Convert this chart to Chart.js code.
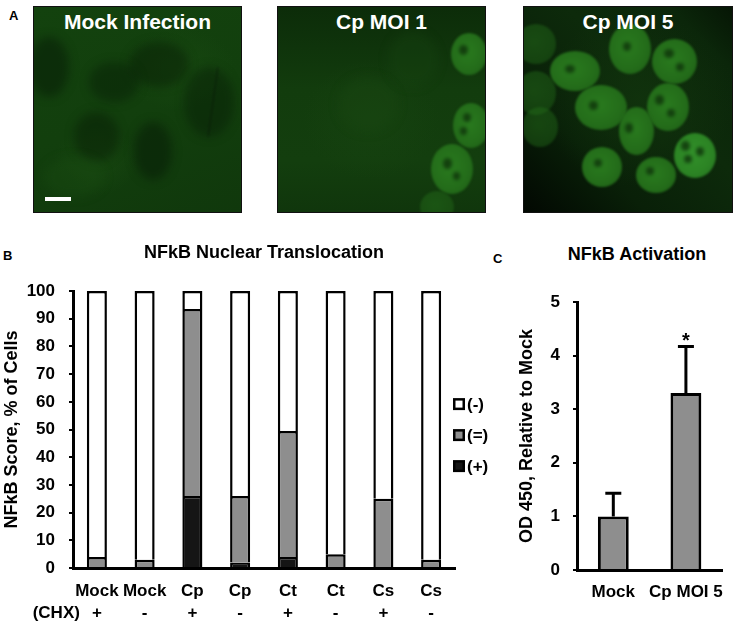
<!DOCTYPE html>
<html>
<head>
<meta charset="utf-8">
<script src="https://cdn.jsdelivr.net/npm/chart.js@4.4.1/dist/chart.umd.min.js"></script>
<style>
html,body{margin:0;padding:0;background:#fff;}
body{width:737px;height:626px;position:relative;overflow:hidden;font-family:"Liberation Sans",Arial,sans-serif;}
.lbl{position:absolute;font-weight:bold;color:#000;line-height:1;}
.img{position:absolute;top:6px;height:207px;box-sizing:border-box;border:1.5px solid #111;overflow:hidden;}
.cap{position:absolute;left:0;right:0;top:3px;text-align:center;color:#fff;font-weight:bold;font-size:21px;z-index:5;}
.nuc{position:absolute;border-radius:50%;filter:blur(0.8px);
  background:radial-gradient(ellipse at 45% 45%,#297a1e 0%,#246d1a 55%,#1d5c16 100%);}
.dim{opacity:0.45;}
.spot{position:absolute;border-radius:50%;background:rgba(14,50,10,0.8);filter:blur(1.5px);}
.patch{position:absolute;border-radius:50%;filter:blur(5px);}
.chartbox{position:absolute;}
</style>
</head>
<body>
<!-- Panel A -->
<div class="lbl" style="left:9px;top:9px;font-size:13px;">A</div>

<div class="img" style="left:33px;width:209px;background:
  radial-gradient(ellipse 60px 50px at 30% 75%, rgba(26,76,18,0.6), rgba(0,0,0,0) 70%),
  radial-gradient(ellipse 80px 60px at 70% 30%, rgba(26,76,18,0.55), rgba(0,0,0,0) 70%),
  linear-gradient(160deg,#13420e 0%,#123f0d 50%,#10380c 100%);">
  <div class="patch" style="left:-5px;top:30px;width:40px;height:60px;background:rgba(6,26,5,0.5);"></div>
  <div class="patch" style="left:95px;top:35px;width:60px;height:45px;background:rgba(6,26,5,0.45);"></div>
  <div class="patch" style="left:40px;top:105px;width:45px;height:50px;background:rgba(6,26,5,0.45);"></div>
  <div class="patch" style="left:100px;top:115px;width:38px;height:58px;background:rgba(6,26,5,0.5);"></div>
  <div class="patch" style="left:150px;top:60px;width:50px;height:70px;background:rgba(6,26,5,0.4);"></div>
  <div class="patch" style="left:55px;top:55px;width:50px;height:40px;background:rgba(6,26,5,0.4);"></div>
  <div class="patch" style="left:10px;top:150px;width:60px;height:40px;background:rgba(26,76,18,0.4);"></div>
  <div style="position:absolute;left:178px;top:60px;width:1.5px;height:70px;background:rgba(5,20,5,0.35);filter:blur(1px);transform:rotate(8deg);"></div>
  <div style="position:absolute;left:11px;top:190px;width:26px;height:4px;background:#fff;"></div>
  <div class="cap">Mock Infection</div>
</div>

<div class="img" style="left:277px;width:209px;background:
  radial-gradient(ellipse 90px 80px at 45% 55%, rgba(24,70,17,0.55), rgba(0,0,0,0) 75%),
  linear-gradient(180deg,#0c2c09 0%,#123c0d 40%,#133e0e 75%,#10360c 100%);">
  <div class="patch" style="left:60px;top:70px;width:60px;height:55px;background:rgba(24,70,17,0.4);"></div>
  <div class="patch" style="left:110px;top:25px;width:50px;height:55px;background:rgba(24,70,17,0.35);"></div>
  <div class="nuc" style="left:173px;top:26px;width:36px;height:42px;"><div class="spot" style="left:8px;top:12px;width:9px;height:10px;"></div></div>
  <div class="nuc" style="left:175px;top:96px;width:36px;height:45px;"><div class="spot" style="left:10px;top:10px;width:8px;height:9px;"></div><div class="spot" style="left:7px;top:24px;width:7px;height:8px;"></div></div>
  <div class="nuc" style="left:153px;top:137px;width:42px;height:50px;"><div class="spot" style="left:12px;top:14px;width:9px;height:11px;"></div><div class="spot" style="left:22px;top:28px;width:7px;height:8px;"></div></div>
  <div class="nuc dim" style="left:142px;top:184px;width:34px;height:32px;"></div>
  <div class="cap">Cp MOI 1</div>
</div>

<div class="img" style="left:523px;width:210px;background:
  radial-gradient(ellipse 120px 110px at 55% 45%, rgba(17,52,13,0.8), rgba(0,0,0,0) 80%),
  linear-gradient(45deg,#020802 0%,#092008 30%,#0d2a0b 60%,#0b260a 85%,#061605 100%);">
  <div class="nuc dim" style="left:-8px;top:17px;width:40px;height:40px;"></div>
  <div class="nuc dim" style="left:-8px;top:64px;width:40px;height:44px;"></div>
  <div class="nuc dim" style="left:-2px;top:100px;width:36px;height:40px;"></div>
  <div class="nuc" style="left:85px;top:17px;width:42px;height:50px;"><div class="spot" style="left:14px;top:18px;width:8px;height:9px;"></div></div>
  <div class="nuc" style="left:128px;top:32px;width:45px;height:45px;"><div class="spot" style="left:12px;top:10px;width:10px;height:9px;"></div><div class="spot" style="left:24px;top:24px;width:8px;height:8px;"></div></div>
  <div class="nuc" style="left:26px;top:44px;width:50px;height:40px;"><div class="spot" style="left:15px;top:14px;width:10px;height:8px;"></div></div>
  <div class="nuc" style="left:51px;top:78px;width:52px;height:45px;"><div class="spot" style="left:14px;top:16px;width:9px;height:9px;"></div></div>
  <div class="nuc" style="left:123px;top:76px;width:42px;height:48px;"><div class="spot" style="left:8px;top:12px;width:9px;height:10px;"></div><div class="spot" style="left:20px;top:26px;width:8px;height:8px;"></div></div>
  <div class="nuc" style="left:95px;top:100px;width:35px;height:48px;"><div class="spot" style="left:6px;top:16px;width:8px;height:10px;"></div></div>
  <div class="nuc" style="left:150px;top:126px;width:42px;height:45px;background:radial-gradient(ellipse at 45% 45%,#32902a 0%,#2c8424 55%,#247020 100%);"><div class="spot" style="left:7px;top:8px;width:9px;height:10px;"></div><div class="spot" style="left:22px;top:14px;width:8px;height:9px;"></div><div class="spot" style="left:10px;top:22px;width:8px;height:8px;"></div></div>
  <div class="nuc" style="left:58px;top:140px;width:40px;height:40px;"><div class="spot" style="left:12px;top:12px;width:8px;height:8px;"></div></div>
  <div class="nuc" style="left:112px;top:150px;width:40px;height:36px;"><div class="spot" style="left:10px;top:10px;width:8px;height:8px;"></div></div>
  <div class="cap">Cp MOI 5</div>
</div>

<!-- Panel letters / titles -->
<div class="lbl" style="left:3px;top:249px;font-size:13px;">B</div>
<div class="lbl" style="left:493px;top:252px;font-size:13px;">C</div>
<div class="lbl" style="left:500px;top:245px;width:274px;text-align:center;font-size:18px;">NFkB Activation</div>

<div class="chartbox" style="left:0;top:235px;width:505px;height:391px;"><canvas id="chartB"></canvas></div>
<div class="chartbox" style="left:500px;top:235px;width:237px;height:391px;"><canvas id="chartC"></canvas></div>

<script>
// ---------- DATA ----------
const categoriesB = ["Mock", "Mock", "Cp", "Cp", "Ct", "Ct", "Cs", "Cs"];
const chxLabels   = ["+", "-", "+", "-", "+", "-", "+", "-"];
const seriesNamesB = ["(+)", "(=)", "(-)"];
const positiveVals = [0, 0, 26, 2, 4, 0, 0, 0];
const equalVals    = [4, 3, 67.5, 24, 45.5, 5, 25, 3];
const negativeVals = [96, 97, 6.5, 74, 50.5, 95, 75, 97];
const yTicksB = [0, 10, 20, 30, 40, 50, 60, 70, 80, 90, 100];

const categoriesC = ["Mock", "Cp MOI 5"];
const activationVals = [1.0, 3.3];
const activationErr  = [0.43, 0.87];
const significance   = ["", "*"];
const yTicksC = [0, 1, 2, 3, 4, 5];

// ---------- STYLE ----------
const FONT = "'Liberation Sans', Arial, sans-serif";
Chart.defaults.font.family = FONT;
Chart.defaults.color = '#000';
Chart.defaults.animation = false;

const sideLegend = {
  id: 'sideLegend',
  afterDraw(chart, args, opts) {
    if (!opts || !opts.show) return;
    const ctx = chart.ctx, ca = chart.chartArea;
    const items = chart.data.datasets.slice().reverse();
    ctx.save();
    items.forEach((d, i) => {
      const y = ca.top + opts.top + i * opts.spacing;
      const x = ca.right + opts.dx;
      ctx.fillStyle = '#000';
      ctx.fillRect(x, y - 6, 12, 12);
      ctx.fillStyle = d.backgroundColor;
      ctx.fillRect(x + 2.5, y - 3.5, 7, 7);
      ctx.fillStyle = '#000';
      ctx.font = 'bold 17px ' + FONT;
      ctx.textBaseline = 'middle';
      ctx.textAlign = 'left';
      ctx.fillText(d.label, x + 14, y + 1);
    });
    ctx.restore();
  }
};

const rowLabel = {
  id: 'rowLabel',
  afterDraw(chart, args, opts) {
    if (!opts || !opts.text) return;
    const ctx = chart.ctx, xs = chart.scales.x;
    ctx.save();
    ctx.font = 'bold 17px ' + FONT;
    ctx.fillStyle = '#000';
    ctx.textAlign = 'right';
    ctx.textBaseline = 'middle';
    ctx.fillText(opts.text, xs.getPixelForTick(0) + opts.dx, chart.chartArea.bottom + opts.dy);
    ctx.restore();
  }
};

const errorBars = {
  id: 'errorBars',
  afterDatasetsDraw(chart, args, opts) {
    if (!opts || !opts.errors) return;
    const ctx = chart.ctx, ys = chart.scales.y;
    const ds = chart.data.datasets[0];
    const meta = chart.getDatasetMeta(0);
    ctx.save();
    ctx.strokeStyle = '#000';
    ctx.lineWidth = 3;
    ctx.lineCap = 'butt';
    opts.errors.forEach((e, i) => {
      const bar = meta.data[i];
      const x = bar.x;
      const y0 = ys.getPixelForValue(ds.data[i]);
      const y1 = ys.getPixelForValue(ds.data[i] + e);
      ctx.beginPath();
      ctx.moveTo(x, y0); ctx.lineTo(x, y1);
      ctx.moveTo(x - 8, y1); ctx.lineTo(x + 8, y1);
      ctx.stroke();
      if (opts.marks && opts.marks[i]) {
        ctx.fillStyle = '#000';
        ctx.font = 'bold 20px ' + FONT;
        ctx.textAlign = 'center';
        ctx.textBaseline = 'alphabetic';
        ctx.fillText(opts.marks[i], x, y1 + 1);
      }
    });
    ctx.restore();
  }
};

// ---------- CHART B ----------
const colorsB = ['#151515', '#8e8e8e', '#ffffff'];
const valuesB = [positiveVals, equalVals, negativeVals];
new Chart(document.getElementById('chartB'), {
  type: 'bar',
  data: {
    labels: categoriesB.map((c, i) => [c, chxLabels[i]]),
    datasets: seriesNamesB.map((name, k) => ({
      label: name,
      data: valuesB[k].map(v => (v === 0 ? null : v)),
      backgroundColor: colorsB[k],
      borderColor: '#000',
      borderWidth: 2.5,
      borderSkipped: 'start',
      barPercentage: 0.84,
      categoryPercentage: 0.5,
      clip: false
    }))
  },
  options: {
    responsive: true,
    maintainAspectRatio: false,
    devicePixelRatio: 1,
    layout: { padding: { left: 0, right: 50, top: 0, bottom: 0 } },
    plugins: {
      legend: { display: false },
      tooltip: { enabled: false },
      title: {
        display: true, text: 'NFkB Nuclear Translocation', fullSize: false,
        font: { size: 18, weight: 'bold' }, color: '#000',
        padding: { top: 7.5, bottom: 27 }
      },
      sideLegend: { show: true, top: 113, spacing: 31, dx: -2 },
      rowLabel: { text: '(CHX)', dx: -17, dy: 45 }
    },
    scales: {
      x: {
        stacked: true,
        grid: { display: false, drawTicks: false },
        border: { display: true, color: '#000', width: 3 },
        ticks: { font: { size: 17, weight: 'bold', lineHeight: 1.25 }, color: '#000', padding: 13, maxRotation: 0, minRotation: 0, autoSkip: false },
        afterFit(s) { s.height = 58; }
      },
      y: {
        stacked: true, min: 0, max: 100,
        afterBuildTicks(s) { s.ticks = yTicksB.map(v => ({ value: v })); },
        grid: { display: true, drawOnChartArea: false, drawTicks: true, tickLength: 4, color: '#000', lineWidth: 2 },
        border: { display: true, color: '#000', width: 3 },
        ticks: { font: { size: 17, weight: 'bold' }, color: '#000', padding: 14 },
        title: { display: true, text: 'NFkB Score, % of Cells', font: { size: 18, weight: 'bold' }, color: '#000', padding: { top: 1, bottom: 0 } },
        afterFit(s) { s.width = 73; }
      }
    }
  },
  plugins: [sideLegend, rowLabel]
});

// ---------- CHART C ----------
new Chart(document.getElementById('chartC'), {
  type: 'bar',
  data: {
    labels: categoriesC,
    datasets: [{
      label: 'OD 450',
      data: activationVals,
      backgroundColor: '#8e8e8e',
      borderColor: '#000',
      borderWidth: 3,
      borderSkipped: 'start',
      barPercentage: 0.85,
      categoryPercentage: 0.5,
      clip: false
    }]
  },
  options: {
    responsive: true,
    maintainAspectRatio: false,
    devicePixelRatio: 1,
    layout: { padding: { left: 0, right: 9, top: 67, bottom: 0 } },
    plugins: {
      legend: { display: false },
      tooltip: { enabled: false },
      errorBars: { errors: activationErr, marks: significance }
    },
    scales: {
      x: {
        grid: { display: false, drawTicks: false },
        border: { display: true, color: '#000', width: 3 },
        ticks: { font: { size: 17, weight: 'bold' }, color: '#000', padding: 12, maxRotation: 0, minRotation: 0, autoSkip: false },
        afterFit(s) { s.height = 56; }
      },
      y: {
        min: 0, max: 5,
        afterBuildTicks(s) { s.ticks = yTicksC.map(v => ({ value: v })); },
        grid: { display: true, drawOnChartArea: false, drawTicks: true, tickLength: 4, color: '#000', lineWidth: 2 },
        border: { display: true, color: '#000', width: 3 },
        ticks: { font: { size: 17, weight: 'bold' }, color: '#000', padding: 13 },
        title: { display: true, text: 'OD 450, Relative to Mock', font: { size: 18, weight: 'bold' }, color: '#000', padding: { top: 16, bottom: 0 } },
        afterFit(s) { s.width = 77; }
      }
    }
  },
  plugins: [errorBars]
});
</script>
</body>
</html>
